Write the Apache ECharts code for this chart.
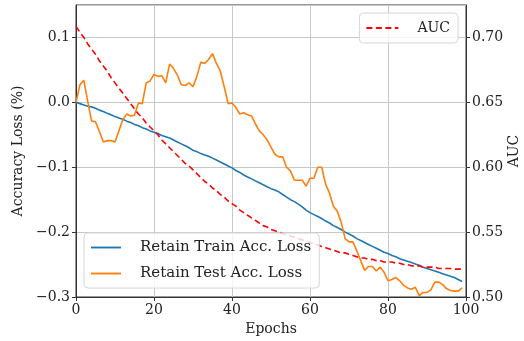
<!DOCTYPE html>
<html>
<head>
<meta charset="utf-8">
<script src="https://cdn.jsdelivr.net/npm/echarts@6/dist/echarts.min.js"></script>
<style>
  html, body {margin: 0; padding: 0; background: #fff;}
  #chart {width: 524px; height: 341px;}
</style>
</head>
<body>
<div id="chart"></div>
<script>
// epochs 0..99
var epochs = [];
for (var i = 0; i < 100; i++) epochs.push(i);

var trainLoss = [
    0.000, -0.002, -0.004, -0.006, -0.007, -0.009, -0.012, -0.014, -0.017, -0.019,
    -0.022, -0.024, -0.026, -0.029, -0.031, -0.034, -0.036, -0.039, -0.041, -0.044,
    -0.046, -0.048, -0.051, -0.053, -0.055, -0.058, -0.061, -0.064, -0.067, -0.070,
    -0.074, -0.076, -0.079, -0.081, -0.083, -0.086, -0.089, -0.092, -0.095, -0.098,
    -0.101, -0.105, -0.108, -0.112, -0.115, -0.118, -0.121, -0.124, -0.127, -0.130,
    -0.133, -0.135, -0.138, -0.142, -0.146, -0.150, -0.153, -0.157, -0.161, -0.166,
    -0.170, -0.173, -0.176, -0.179, -0.183, -0.186, -0.190, -0.193, -0.196, -0.200,
    -0.203, -0.206, -0.210, -0.213, -0.216, -0.219, -0.222, -0.225, -0.228, -0.231,
    -0.233, -0.236, -0.238, -0.241, -0.243, -0.245, -0.247, -0.249, -0.251, -0.254,
    -0.256, -0.258, -0.260, -0.262, -0.264, -0.266, -0.268, -0.270, -0.273, -0.276
];

var testLoss = [
    0.000, 0.027, 0.034, 0.002, -0.029, -0.030, -0.045, -0.061, -0.059, -0.059,
    -0.061, -0.044, -0.027, -0.018, -0.021, -0.020, -0.001, -0.002, 0.030, 0.033,
    0.043, 0.040, 0.041, 0.030, 0.059, 0.052, 0.042, 0.027, 0.026, 0.030,
    0.024, 0.040, 0.062, 0.060, 0.066, 0.075, 0.060, 0.048, 0.024, -0.002,
    -0.001, -0.008, -0.018, -0.016, -0.019, -0.021, -0.033, -0.044, -0.050, -0.058,
    -0.069, -0.080, -0.084, -0.084, -0.100, -0.106, -0.120, -0.120, -0.120, -0.129,
    -0.117, -0.117, -0.100, -0.100, -0.126, -0.140, -0.160, -0.168, -0.185, -0.210,
    -0.215, -0.215, -0.229, -0.244, -0.259, -0.253, -0.253, -0.260, -0.254, -0.262,
    -0.275, -0.273, -0.270, -0.275, -0.282, -0.286, -0.288, -0.285, -0.298, -0.293,
    -0.293, -0.289, -0.277, -0.277, -0.281, -0.287, -0.290, -0.291, -0.291, -0.286
];

var auc = [
    0.7085, 0.704, 0.700, 0.695, 0.691, 0.687, 0.682, 0.678, 0.674, 0.669,
    0.665, 0.661, 0.657, 0.653, 0.649, 0.645, 0.641, 0.638, 0.634, 0.631,
    0.628, 0.625, 0.621, 0.618, 0.615, 0.612, 0.609, 0.606, 0.603, 0.601,
    0.598, 0.595, 0.592, 0.589, 0.587, 0.584, 0.582, 0.579, 0.577, 0.574,
    0.572, 0.570, 0.567, 0.565, 0.563, 0.561, 0.559, 0.557, 0.555, 0.554,
    0.552, 0.551, 0.550, 0.549, 0.548, 0.547, 0.546, 0.545, 0.544, 0.543,
    0.542, 0.541, 0.540, 0.539, 0.538, 0.537, 0.536, 0.535, 0.534, 0.534,
    0.533, 0.532, 0.531, 0.530, 0.530, 0.529, 0.529, 0.528, 0.528, 0.527,
    0.527, 0.527, 0.526, 0.526, 0.525, 0.525, 0.524, 0.524, 0.524, 0.523,
    0.523, 0.523, 0.523, 0.522, 0.522, 0.522, 0.522, 0.5215, 0.5215, 0.5215
];

function pairs(ys) {
    return epochs.map(function(x, i) { return [x, ys[i]]; });
}

var font = 'DejaVu Serif';
var fs = 14;
var axisColor = '#333';
var textColor = '#222';
// legend line samples (solid / dashed)
var solidIcon = 'path://M0,0h32v2h-32z';
var dashIcon = 'path://M0,0h6v2h-6zM9.5,0h6v2h-6zM19,0h6v2h-6zM28.5,0h3.5v2h-3.5z';

var myChart = echarts.init(document.getElementById('chart'), null, {renderer: 'canvas'});

myChart.setOption({
    animation: false,
    textStyle: {fontFamily: font},
    grid: {
        left: 76, right: 58, top: 5, bottom: 44,
        outerBoundsMode: 'none',
        containLabel: false,
        show: true, borderColor: axisColor, borderWidth: 1,
        backgroundColor: 'transparent'
    },
    legend: [
        {
            data: [
                {name: 'Retain Train Acc. Loss', icon: solidIcon},
                {name: 'Retain Test Acc. Loss', icon: solidIcon}
            ],
            orient: 'vertical',
            left: 84, top: 233,
            padding: [7, 8, 7, 7],
            itemWidth: 30, itemHeight: 2, itemGap: 11,
            backgroundColor: 'rgba(255,255,255,0.8)',
            borderColor: '#d6d6d6', borderWidth: 1, borderRadius: 4,
            textStyle: {fontFamily: font, fontSize: 15, color: textColor, padding: [0, 0, 0, 14], lineHeight: 14}
        },
        {
            data: [{name: 'AUC', icon: dashIcon}],
            right: 66, top: 13,
            padding: [8, 8, 8, 7],
            itemWidth: 32, itemHeight: 2,
            backgroundColor: 'rgba(255,255,255,0.8)',
            borderColor: '#d6d6d6', borderWidth: 1, borderRadius: 4,
            textStyle: {fontFamily: font, fontSize: fs, color: textColor, padding: [0, 0, 0, 14], lineHeight: 14}
        }
    ],
    xAxis: {
        type: 'value', min: 0, max: 100, interval: 20,
        name: 'Epochs', nameLocation: 'middle', nameGap: 23,
        nameTextStyle: {fontFamily: font, fontSize: fs, color: textColor},
        axisLine: {onZero: false, lineStyle: {color: axisColor}},
        axisTick: {length: 4, lineStyle: {color: axisColor}},
        axisLabel: {margin: 6, fontFamily: font, fontSize: fs, color: textColor},
        splitLine: {show: true, lineStyle: {color: '#c8c8c8', width: 1}}
    },
    yAxis: [
        {
            type: 'value', min: -0.3, max: 0.15, interval: 0.1,
            name: 'Accuracy Loss (%)', nameLocation: 'middle', nameGap: 50,
            nameTextStyle: {fontFamily: font, fontSize: fs, color: textColor},
            axisLine: {show: true, onZero: false, lineStyle: {color: axisColor}},
            axisTick: {show: true, length: 4, lineStyle: {color: axisColor}},
            axisLabel: {
                margin: 6, fontFamily: font, fontSize: fs, color: textColor,
                showMaxLabel: false,
                formatter: function(v) {
                    if (Math.abs(v) < 1e-9) return '0.0';
                    return v.toFixed(1).replace('-', '\u2212');
                }
            },
            splitLine: {show: true, lineStyle: {color: '#c8c8c8', width: 1}}
        },
        {
            type: 'value', min: 0.5, max: 0.725, interval: 0.05,
            name: 'AUC', nameLocation: 'middle', nameGap: 41, nameRotate: 90,
            nameMoveOverlap: false,
            nameTextStyle: {fontFamily: font, fontSize: fs, color: textColor},
            axisLine: {show: true, onZero: false, lineStyle: {color: axisColor}},
            axisTick: {show: true, length: 4, lineStyle: {color: axisColor}},
            axisLabel: {
                margin: 6, fontFamily: font, fontSize: fs, color: textColor,
                showMaxLabel: false,
                formatter: function(v) { return v.toFixed(2); }
            },
            splitLine: {show: false}
        }
    ],
    series: [
        {
            name: 'Retain Train Acc. Loss',
            type: 'line', yAxisIndex: 0,
            data: pairs(trainLoss),
            symbol: 'none',
            lineStyle: {color: '#1f77b4', width: 1.6},
            itemStyle: {color: '#1f77b4'}
        },
        {
            name: 'Retain Test Acc. Loss',
            type: 'line', yAxisIndex: 0,
            data: pairs(testLoss),
            symbol: 'none',
            lineStyle: {color: '#ff7f0e', width: 1.6},
            itemStyle: {color: '#ff7f0e'}
        },
        {
            name: 'AUC',
            type: 'line', yAxisIndex: 1,
            data: pairs(auc),
            symbol: 'none',
            lineStyle: {color: '#ff0000', width: 1.6, type: [6, 3.5]},
            itemStyle: {color: '#ff0000'}
        }
    ]
});
window.onresize = myChart.resize;
</script>
</body>
</html>
